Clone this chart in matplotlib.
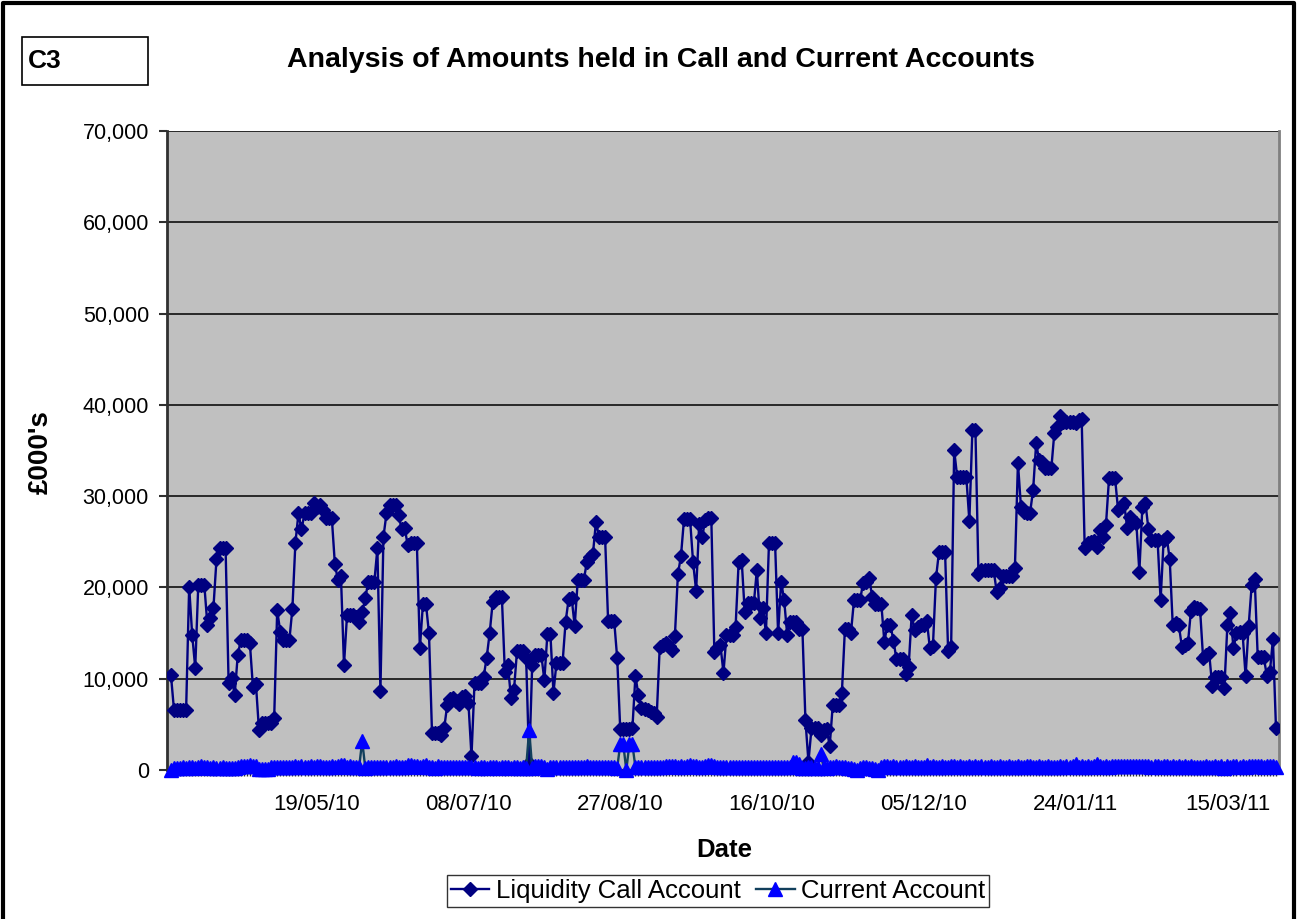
import matplotlib
matplotlib.use('Agg')
import matplotlib.pyplot as plt
from matplotlib.lines import Line2D
from matplotlib.patches import Rectangle
from matplotlib.ticker import FuncFormatter
import matplotlib.dates as mdates
import pandas as pd

plt.rcParams['font.family'] = ['Liberation Sans', 'DejaVu Sans']

# ---------------- data ----------------
start_date = '2010-04-01'

liquidity_call = [
    10400,
    6600, 6600, 6600, 6600, 6600,
    20080, 14780, 11200,
    20260, 20260, 20260,
    15900, 16600, 17800, 23070,
    24270, 24270, 24270,
    9490, 10100, 8200, 12600,
    14200, 14200, 14200, 13900,
    9100, 9400, 4380,
    5200, 5200, 5200, 5200, 5650,
    17500, 15150,
    14200, 14200, 14200, 17660,
    24900, 28100, 26350,
    28100, 28100, 28100,
    29200, 28800, 29000, 28470,
    27560, 27560, 27560,
    22550, 20800, 21240, 11500,
    16970, 16970, 16970, 16800, 16240, 17260, 18800,
    20620, 20620, 20620, 24270, 8690, 25550, 28100,
    29000, 29000, 29000, 27920, 26350, 26460, 24640,
    24900, 24900, 24900, 13320, 18180, 18180, 14970,
    4000, 4000, 4000, 3830, 4560,
    # 91-182
    7100, 7800, 7900, 7600, 7200, 8000, 8100, 7300,
    1500,
    9560, 9560, 9560, 10200, 12300, 15040, 18430,
    19000, 19000, 19000, 10700, 11500, 7920, 8760,
    13070, 13070, 13070, 12300, 800, 11500,
    12600, 12600, 12600, 9850, 14860, 14860, 8470,
    11750, 11750, 11750, 16240, 18700, 18800, 15770,
    20800, 20800, 20800, 22800, 23360, 23650, 27190,
    25550, 25550, 25550, 16350, 16350, 16350, 12230,
    4450, 4450, 4450, 4450, 4560, 10300, 8200,
    6750, 6650, 6570, 6390, 6200, 5770,
    13430, 13690, 13870, 13580, 13140, 14670,
    21460, 23430, 27450, 27450, 27450, 22740, 19640,
    26940, 25550, 27375, 27560, 27560,
    12960, 13320, 13690, 10660,
    # 183-278
    14780, 14780, 14780, 15700, 22740, 23000, 17340,
    18250, 18250, 18250, 21900, 16600, 17700, 15040,
    24900, 24900, 24900, 14970, 20620, 18600, 14780,
    16200, 16200, 16200, 15500, 15500, 5480, 900,
    4560, 4560, 4560, 3830, 4380, 4500, 2630,
    7100, 7100, 7100, 8400, 15400, 15400, 15040,
    18600, 18600, 18600, 20500, 20600, 21000, 19000,
    18180, 18180, 18180, 14050, 15880, 15880, 14160,
    12120, 12120, 12120, 10500, 11300, 16970, 15300,
    15700, 15880, 15880, 16350, 13320, 13580, 21000,
    23900, 23900, 23900, 13070, 13500, 35040,
    32100, 32100, 32100, 32100, 27300, 37230, 37230,
    21500, 21900, 21900, 21900, 21900, 21900,
    19530, 19900, 21240, 21240, 21240, 21240, 22080,
    # 279-364
    33650, 28835, 28290, 28100, 28180, 30660, 35770, 33945, 33760, 33030,
    33030, 33030, 36970, 37600, 38760, 38140, 38140, 38140, 38140, 38030,
    38320, 38430, 24270, 24820, 25000, 25100, 24450, 26280, 25480, 26830,
    31940, 31940, 31940, 28470, 28840, 29200, 26460, 27670, 27300, 27080,
    21720, 28840, 29270, 26350, 25190, 25190, 25190, 18620, 25190, 25550,
    23070, 15880, 16060, 15880, 13500, 13690, 13870, 17450, 17810, 17700,
    17590, 12230, 12590, 12780, 9200, 10150, 10150, 10150, 8940, 15880,
    17150, 13320, 14970, 15070, 14970, 10290, 15770, 20260, 20910, 12340,
    12340, 12340, 10290, 10770, 14310, 4640,
]

current_account = [
    50, 200, 250, 250, 300, 250, 350, 300, 250, 300,
    450, 350, 300, 250, 300, 250, 250, 300, 200, 250,
    200, 250, 300, 450, 450, 450, 500, 450, 400, 150,
    150, 100, 150, 300, 350, 350, 300, 350, 300, 350,
    300, 400, 350, 400, 350, 300, 400, 350, 400, 450,
    350, 300, 350, 400, 350, 450, 500, 500, 350, 400,
    350, 300, 350, 3200, 250, 300, 350, 300, 300, 350,
    300, 350, 300, 350, 400, 350, 300, 350, 500, 550,
    400, 450, 350, 400, 550, 350, 300, 250, 400, 350,
    300, 350, 300, 300, 350, 300, 300, 300, 350, 300,
    300, 250, 300, 300, 250, 300, 300, 300, 250, 300,
    300, 300, 250, 300, 300, 250, 300, 250, 4400, 200,
    400, 450, 400, 350, 100, 300, 300, 300, 350, 300,
    300, 300, 300, 350, 300, 300, 350, 400, 350, 300,
    300, 350, 300, 300, 300, 350, 300, 250, 2800, 2800,
    0, 2800, 2800, 300, 300, 350, 350, 350, 300, 350,
    350, 350, 350, 400, 450, 400, 400, 350, 400, 350,
    400, 550, 450, 400, 300, 350, 400, 550, 600, 400,
    350, 300, 350, 300, 350, 300, 300, 350, 300, 300,
    350, 300, 300, 350, 300, 300, 350, 300, 300, 300,
    300, 350, 300, 300, 350, 900, 900, 700, 250, 250,
    300, 300, 200, 200, 1800, 300, 250, 350, 350, 400,
    350, 300, 300, 250, 200, 100, 0, 250, 300, 300,
    250, 200, 100, 0, 300, 400, 400, 350, 400, 350,
    350, 300, 400, 350, 350, 400, 300, 350, 300, 600,
    350, 400, 350, 350, 400, 350, 350, 400, 400, 350,
    400, 350, 350, 400, 350, 400, 350, 400, 350, 350,
    400, 350, 350, 400, 350, 350, 400, 350, 350, 400,
    350, 350, 400, 400, 350, 350, 400, 350, 350, 400,
    350, 300, 350, 400, 350, 400, 350, 400, 650, 350,
    400, 350, 400, 350, 400, 700, 400, 350, 400, 350,
    400, 450, 400, 400, 450, 400, 450, 400, 400, 400,
    400, 450, 400, 350, 400, 400, 350, 400, 400, 350,
    400, 350, 400, 350, 400, 350, 400, 350, 350, 350,
    350, 400, 350, 350, 400, 350, 400, 200, 400, 350,
    400, 400, 350, 400, 350, 400, 450, 400, 400, 400,
    350, 450, 400, 400, 350,
]

tick_labels = ['19/05/10', '08/07/10', '27/08/10', '16/10/10',
               '05/12/10', '24/01/11', '15/03/11']
y_ticks = [0, 10000, 20000, 30000, 40000, 50000, 60000, 70000]
series_names = ['Liquidity Call Account', 'Current Account']
title_text = 'Analysis of Amounts held in Call and Current Accounts'

# ---------------- figure ----------------
W, H = 1297, 919
fig = plt.figure(figsize=(W / 100, H / 100), dpi=100)
fig.patch.set_facecolor('white')

def fx(px):
    return px / W

def fy(py):
    return 1 - py / H

ax = fig.add_axes([fx(167), fy(770), fx(1279) - fx(167), fy(131) - fy(770)])
ax.set_facecolor('#C0C0C0')

dates = pd.date_range(start_date, periods=len(liquidity_call), freq='D')

ax.plot(dates, liquidity_call, color='#000080', lw=1.7, marker='D', ms=7.5,
        mfc='#000080', mec='#000080', label=series_names[0], zorder=3)
ax.plot(dates, current_account, color='#123F5C', lw=1.7, marker='^', ms=10,
        mfc='#0000FF', mec='#0000FF', label=series_names[1], zorder=4,
        clip_on=False)

ax.set_ylim(0, 70000)
ax.set_yticks(y_ticks)
ax.yaxis.set_major_formatter(FuncFormatter(lambda v, p: f'{int(v):,}'))
ax.grid(axis='y', color='black', lw=1.1)
ax.set_axisbelow(True)

x0 = mdates.date2num(dates[0]) - 1.3
x1 = mdates.date2num(dates[-1]) + 1.0
ax.set_xlim(x0, x1)
tick_dt = pd.to_datetime(tick_labels, format='%d/%m/%y')
ax.set_xticks(tick_dt)
ax.set_xticklabels(tick_labels)
ax.set_xticks(dates, minor=True)

ax.tick_params(axis='x', which='both', length=4, width=1, color='#303030',
               direction='out', labelsize=16, pad=13)
ax.tick_params(axis='y', which='major', length=6, width=1.5, color='#303030',
               direction='out', labelsize=15.5, pad=7)

ax.spines['top'].set_visible(False)
ax.spines['left'].set_color('#303030')
ax.spines['left'].set_linewidth(2)
ax.spines['bottom'].set_color('#303030')
ax.spines['bottom'].set_linewidth(1.5)
ax.spines['right'].set_color('#808080')
ax.spines['right'].set_linewidth(2)

fig.text(fx(41), fy(452), "£000's", fontsize=20, fontweight='bold',
         rotation=90, ha='center', va='center')

fig.text(fx(724), fy(850), 'Date', fontsize=18.5, fontweight='bold',
         ha='center', va='center')

fig.text(fx(661), fy(60), title_text, fontsize=20.5, fontweight='bold',
         ha='center', va='center')

# C3 box
fig.add_artist(Rectangle((fx(22), fy(85)), fx(148) - fx(22), fy(37) - fy(85),
                         transform=fig.transFigure, fill=False,
                         edgecolor='black', lw=1.2))
fig.text(fx(28), fy(61), 'C3', fontsize=19, fontweight='bold',
         ha='left', va='center')

# outer frame (left, top, right)
fig.add_artist(Line2D([fx(3), fx(3), fx(1294), fx(1294)],
                      [0, fy(3), fy(3), 0], transform=fig.transFigure,
                      color='black', lw=3))

leg = fig.legend(loc='center', bbox_to_anchor=(fx(718), fy(891)),
                 ncol=2, fontsize=18.5, frameon=True, fancybox=False,
                 edgecolor='black', handlelength=1.5, handletextpad=0.25,
                 columnspacing=0.6, borderpad=0.15, borderaxespad=0)
leg.get_frame().set_linewidth(1)

fig.savefig('out.png', dpi=100)
